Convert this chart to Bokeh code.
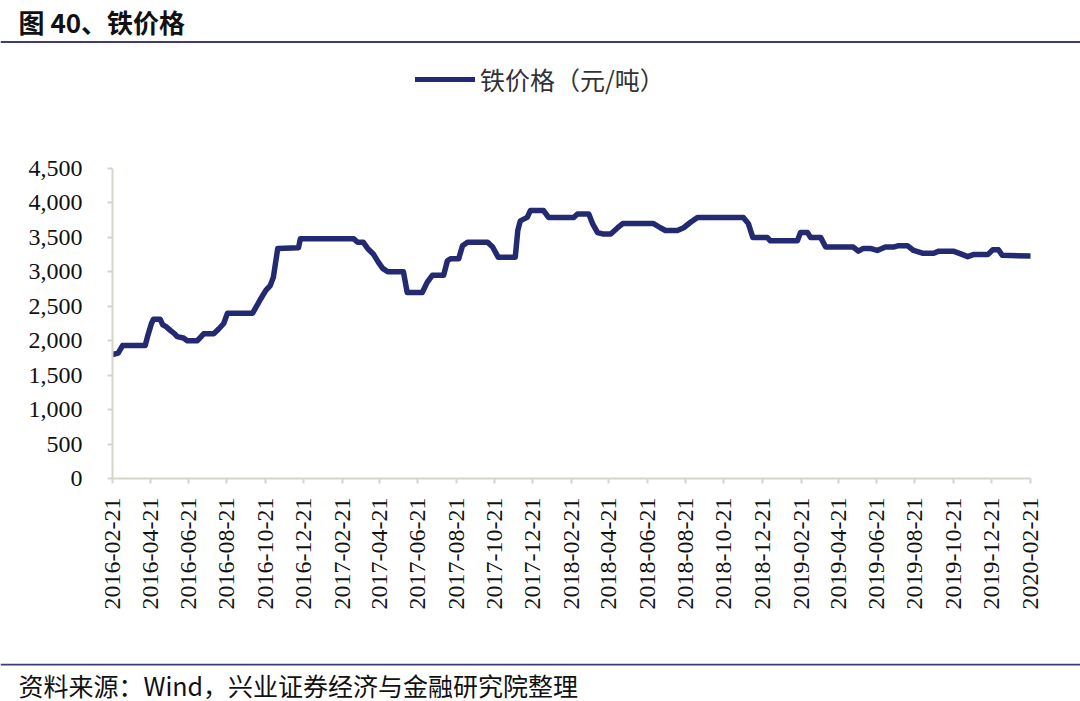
import math
from datetime import datetime
from bokeh.plotting import figure
from bokeh.layouts import column
from bokeh.models import (Range1d, FixedTicker, NumeralTickFormatter, DatetimeTickFormatter,
                          Label, Span, Legend, LegendItem, ColumnDataSource)
from bokeh.embed import file_html
from bokeh.resources import INLINE

# ---------------- data ----------------
title_text = "图 40、铁价格"
series_name = "铁价格（元/吨）"
source_text = "资料来源：Wind，兴业证券经济与金融研究院整理"

dates = [
    "2016-02-21", "2016-03-01", "2016-03-08", "2016-04-13", "2016-04-18", "2016-04-23",
    "2016-04-26", "2016-05-07", "2016-05-11", "2016-05-17", "2016-05-23", "2016-05-30",
    "2016-06-03", "2016-06-13", "2016-06-19", "2016-07-05", "2016-07-10", "2016-07-15",
    "2016-07-31", "2016-08-08", "2016-08-16", "2016-08-22", "2016-10-01", "2016-10-06",
    "2016-10-14", "2016-10-22", "2016-10-29", "2016-11-03", "2016-11-06", "2016-11-10",
    "2016-12-13", "2016-12-16", "2017-03-11", "2017-03-17", "2017-03-26", "2017-04-02",
    "2017-04-11", "2017-04-19", "2017-04-26", "2017-05-04", "2017-05-29", "2017-06-04",
    "2017-06-28", "2017-07-06", "2017-07-14", "2017-08-01", "2017-08-07", "2017-08-12",
    "2017-08-25", "2017-08-31", "2017-09-08", "2017-10-10", "2017-10-18", "2017-10-27",
    "2017-11-23", "2017-11-27", "2017-12-01", "2017-12-12", "2017-12-17", "2018-01-07",
    "2018-01-15", "2018-02-24", "2018-03-02", "2018-03-20", "2018-03-26", "2018-04-03",
    "2018-04-11", "2018-04-24", "2018-05-05", "2018-05-13", "2018-07-01", "2018-07-12",
    "2018-07-20", "2018-08-08", "2018-08-18", "2018-08-29", "2018-09-09", "2018-11-21",
    "2018-11-29", "2018-12-06", "2018-12-29", "2019-01-03", "2019-02-15", "2019-02-20",
    "2019-03-03", "2019-03-08", "2019-03-24", "2019-04-01", "2019-05-15", "2019-05-23",
    "2019-05-31", "2019-06-11", "2019-06-22", "2019-07-05", "2019-07-18", "2019-07-26",
    "2019-08-09", "2019-08-19", "2019-09-02", "2019-09-20", "2019-09-28", "2019-10-21",
    "2019-11-02", "2019-11-13", "2019-11-22", "2019-12-15", "2019-12-23", "2020-01-01",
    "2020-01-07", "2020-02-21",
]
prices = [
    1800, 1820, 1930, 1930, 2100, 2250,
    2310, 2310, 2230, 2200, 2150, 2100,
    2060, 2040, 2000, 2000, 2050, 2100,
    2100, 2170, 2250, 2400, 2400, 2480,
    2610, 2730, 2800, 2920, 3100, 3340,
    3350, 3480, 3480, 3430, 3430, 3340,
    3260, 3140, 3050, 3000, 3000, 2700,
    2700, 2850, 2950, 2950, 3160, 3190,
    3190, 3380, 3430, 3430, 3360, 3210,
    3210, 3600, 3740, 3790, 3890, 3890,
    3790, 3790, 3840, 3840, 3700, 3570,
    3550, 3550, 3640, 3700, 3700, 3640,
    3600, 3600, 3640, 3720, 3790, 3790,
    3700, 3500, 3500, 3450, 3450, 3570,
    3570, 3500, 3500, 3360, 3360, 3300,
    3340, 3340, 3310, 3360, 3360, 3380,
    3380, 3310, 3270, 3270, 3300, 3300,
    3260, 3220, 3250, 3250, 3320, 3320,
    3240, 3230,
]

x_tick_labels = [
    "2016-02-21", "2016-04-21", "2016-06-21", "2016-08-21", "2016-10-21", "2016-12-21",
    "2017-02-21", "2017-04-21", "2017-06-21", "2017-08-21", "2017-10-21", "2017-12-21",
    "2018-02-21", "2018-04-21", "2018-06-21", "2018-08-21", "2018-10-21", "2018-12-21",
    "2019-02-21", "2019-04-21", "2019-06-21", "2019-08-21", "2019-10-21", "2019-12-21",
    "2020-02-21",
]
y_ticks = [0, 500, 1000, 1500, 2000, 2500, 3000, 3500, 4000, 4500]

# ---------------- styling ----------------
W = 1080
LINE_COLOR = "#232A72"
AXIS_COLOR = "#D6D6C8"
RULE_COLOR = "#3E3C74"
SERIF = "Liberation Serif"
CJK = "Noto Sans CJK SC"


def to_dt(s):
    return datetime.strptime(s, "%Y-%m-%d")


def to_ms(s):
    return (to_dt(s) - datetime(1970, 1, 1)).total_seconds() * 1000.0


# ---------------- header (title, rule, legend) ----------------
HEAD_H = 126
head = figure(width=W, height=HEAD_H, output_backend="svg", toolbar_location=None,
              x_range=Range1d(0, W), y_range=Range1d(0, HEAD_H),
              min_border=0, outline_line_color=None, frame_align=False)
head.axis.visible = False
head.grid.visible = False
head.add_layout(Label(x=18, y=HEAD_H - 21, text=title_text, text_font=CJK,
                      text_font_size="26px", text_font_style="bold", text_color="#111111",
                      text_baseline="middle", text_align="left"))
head.add_layout(Span(location=HEAD_H - 41.5, dimension="width", line_color=RULE_COLOR,
                     line_width=2))
# legend sample: a glyph with a single missing point, carrying the series style
key = head.line(x=[float("nan")], y=[float("nan")], line_color=LINE_COLOR,
                line_width=5, line_cap="round")
legend = Legend(items=[LegendItem(label=series_name, renderers=[key])],
                location=(415, 29), orientation="horizontal",
                glyph_width=60, glyph_height=20, label_standoff=5,
                padding=0, margin=0, border_line_color=None,
                background_fill_alpha=0,
                label_text_font=CJK, label_text_font_size="25px",
                label_text_color="#333333")
head.add_layout(legend)

# ---------------- main chart ----------------
FOOT_H = 38
MAIN_H = 701 - HEAD_H - FOOT_H
top_b = 168 - HEAD_H
bot_b = MAIN_H - (478 - HEAD_H)
p = figure(width=W, height=MAIN_H, output_backend="svg", toolbar_location=None,
           x_axis_type="datetime",
           x_range=Range1d(to_dt(x_tick_labels[0]), to_dt(x_tick_labels[-1])),
           y_range=Range1d(0, 4500),
           min_border_left=112, min_border_right=W - 1030,
           min_border_top=top_b, min_border_bottom=bot_b,
           outline_line_color=None, frame_align=False)
p.grid.visible = False

src = ColumnDataSource(dict(date=[to_dt(d) for d in dates], price=prices))
r = p.line("date", "price", source=src, line_color=LINE_COLOR, line_width=5.5,
           line_join="round", line_cap="round")

p.xaxis.ticker = FixedTicker(ticks=[to_ms(s) for s in x_tick_labels])
p.xaxis.formatter = DatetimeTickFormatter(days="%Y-%m-%d", months="%Y-%m-%d",
                                          years="%Y-%m-%d", hours="%Y-%m-%d",
                                          context=None)
p.xaxis.major_label_orientation = math.pi / 2
p.yaxis.ticker = FixedTicker(ticks=y_ticks)
p.yaxis.formatter = NumeralTickFormatter(format="0,0")

for ax in (p.xaxis[0], p.yaxis[0]):
    ax.axis_line_color = AXIS_COLOR
    ax.axis_line_width = 2
    ax.major_tick_line_color = AXIS_COLOR
    ax.major_tick_line_width = 2
    ax.major_tick_in = 0
    ax.major_tick_out = 5
    ax.minor_tick_line_color = None
    ax.major_label_text_font = SERIF
    ax.major_label_text_font_size = "24px"
    ax.major_label_text_color = "#111111"
p.xaxis.major_label_standoff = 14
p.yaxis.major_label_standoff = 25

# ---------------- footer ----------------
foot = figure(width=W, height=FOOT_H, output_backend="svg", toolbar_location=None,
              x_range=Range1d(0, W), y_range=Range1d(0, FOOT_H),
              min_border=0, outline_line_color=None, frame_align=False)
foot.axis.visible = False
foot.grid.visible = False
foot.add_layout(Span(location=FOOT_H - 1, dimension="width", line_color=RULE_COLOR, line_width=2))
foot.add_layout(Label(x=18, y=FOOT_H - 21, text=source_text, text_font=CJK,
                      text_font_size="25px", text_color="#111111",
                      text_baseline="middle", text_align="left"))

layout = column(head, p, foot, spacing=0)
open("out.html", "w").write(file_html(layout, INLINE))
